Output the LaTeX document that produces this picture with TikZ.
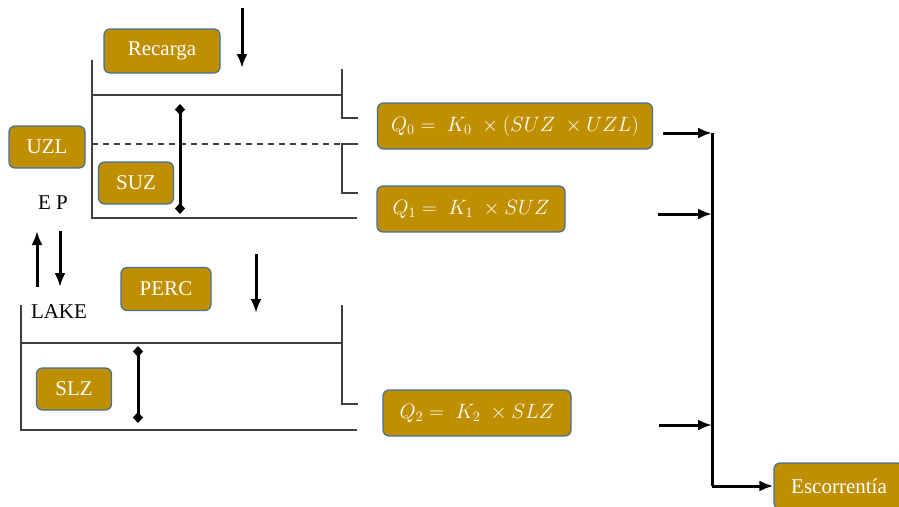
\documentclass[tikz,border=0pt]{standalone}
\usepackage{fontspec}
\setmainfont{Liberation Serif}
\usetikzlibrary{positioning,arrows.meta}
\definecolor{boxfill}{RGB}{191,143,0}
\definecolor{boxline}{RGB}{65,113,156}
\definecolor{tankline}{RGB}{64,64,64}

\begin{document}
\begin{tikzpicture}[x=1pt, y=-1pt,
    varbox/.style={draw=boxline, fill=boxfill, rounded corners=6pt, line width=1.2pt, text=white,
        minimum height=44pt, inner sep=0pt, font=\fontsize{21}{25}\selectfont},
    plain/.style={inner sep=0pt, font=\fontsize{21}{25}\selectfont},
    flow/.style={-{Latex[length=14pt,width=11pt]}, line width=3pt},
    tank/.style={tankline, line width=2pt},
    level/.style={{Diamond[length=11pt,width=10pt]}-{Diamond[length=11pt,width=10pt]}, line width=3pt}]
    \useasboundingbox (0,0) rectangle (899,506);

    % Upper tank
    \draw [tank] (92,60) -- (92,218) -- (357,218);
    \draw [tank] (92,95) -- (342,95);
    \draw [tank] (342,69) -- (342,118) -- (358,118);
    \draw [tank, dashed, dash pattern=on 6pt off 5pt] (92,144) -- (342,144);
    \draw [tank] (358,144) -- (342,144) -- (342,193) -- (358,193);
    \draw [level] (180,104) -- (180,214);

    % Lower tank
    \draw [tank] (21,305) -- (21,430) -- (357,430);
    \draw [tank] (21,343) -- (342,343);
    \draw [tank] (342,305) -- (342,404) -- (358,404);
    \draw [level] (138,346) -- (138,423);

    % Storage labels
    \node [varbox, minimum width=116pt] (recarga) at (162,51) {Recarga};
    \node [varbox, minimum width=76pt, minimum height=42pt] (uzl) at (47,147) {UZL};
    \node [varbox, minimum width=75pt, minimum height=42pt] (suz) at (136,183) {SUZ};
    \node [varbox, minimum width=90pt, minimum height=43pt] (perc) at (166,289) {PERC};
    \node [varbox, minimum width=75pt, minimum height=42pt] (slz) at (74,389) {SLZ};
    \node [plain] (ep) at (53,203) {E P};
    \node [plain] (lake) at (59,312) {LAKE};

    % Outflows
    \node [varbox, minimum width=275pt, minimum height=46pt] (q0) at (515,126)
        {$Q_0 =\; K_0\; \times (SUZ\; \times UZL)$};
    \node [varbox, minimum width=188pt, minimum height=46pt] (q1) at (471,209)
        {$Q_1 =\; K_1\; \times SUZ$};
    \node [varbox, minimum width=188pt, minimum height=46pt] (q2) at (477,413)
        {$Q_2 =\; K_2\; \times SLZ$};
    \node [varbox, minimum width=130pt, minimum height=46pt] (esc) at (839,486) {Escorrentía};

    % Vertical fluxes
    \coordinate (rtop) at (242,8);
    \coordinate (rbot) at (242,68);
    \coordinate (ptop) at (256,254);
    \coordinate (pbot) at (256,313);
    \coordinate (eup) at (37,231);
    \coordinate (elow) at (37,287);
    \coordinate (pup) at (60,231);
    \coordinate (plow) at (60,287);
    \draw [flow] (rtop) -- (rbot);
    \draw [flow] (ptop) -- (pbot);
    \draw [flow] (elow) -- (eup);
    \draw [flow] (pup) -- (plow);

    % Collector
    \coordinate (j0) at (712,133);
    \coordinate (j1) at (712,214);
    \coordinate (j2) at (712,425);
    \coordinate (jend) at (712,486);
    \draw [flow] ([xshift=10pt]q0.east |- j0) -- (j0);
    \draw [flow] ([xshift=92pt]q1.east |- j1) -- (j1);
    \draw [flow] ([xshift=87pt]q2.east |- j2) -- (j2);
    \draw [line width=3pt] (j0) -- (jend);
    \draw [flow] (jend) -- (esc.west);
\end{tikzpicture}
\end{document}
